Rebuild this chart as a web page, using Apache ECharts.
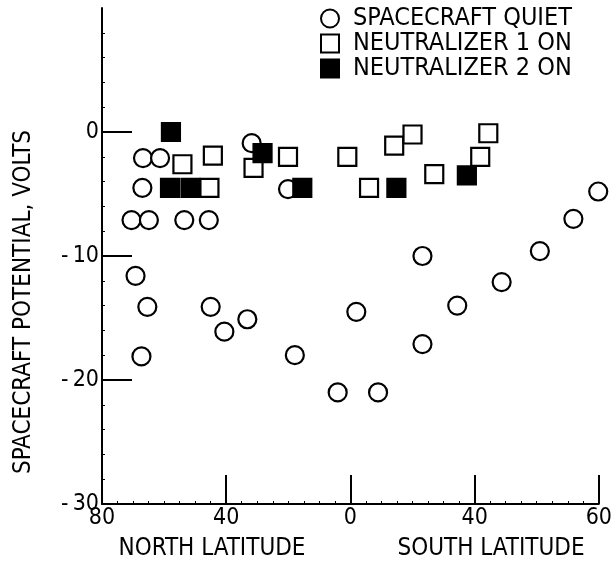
<!DOCTYPE html>
<html><head><meta charset="utf-8">
<script src="https://cdn.jsdelivr.net/npm/echarts@6/dist/echarts.min.js"></script>
<style>html,body{margin:0;padding:0;background:#fff}#c{width:615px;height:568px}</style>
</head><body><div id="c"></div>
<script>
// x values are axis positions: -80..0 = north latitude, 0..80 = south side (right end tick labelled 60 in the original)
const quietX = [-66.8,-61.3,-31.8,-67.0,-20.1,-70.5,-64.9,-53.5,-45.6,-69.2,-65.4,-45.0,-40.6,-33.2,-67.3,-17.9,-4.1,8.9,1.9,23.2,23.2,34.4,48.7,61.0,71.8,79.8];
const quietY = [-2.1,-2.1,-0.9,-4.5,-4.6,-7.1,-7.1,-7.1,-7.1,-11.6,-14.1,-14.1,-16.1,-15.1,-18.1,-18.0,-21.0,-21.0,-14.5,-10.0,-17.1,-14.0,-12.1,-9.6,-7.0,-4.8];
const neut1X = [-54.1,-44.3,-31.2,-20.1,-45.4,-1.0,14.1,20.0,44.4,41.8,27.0,6.0];
const neut1Y = [-2.6,-1.9,-2.9,-2.0,-4.5,-2.0,-1.1,-0.2,-0.1,-2.0,-3.4,-4.5];
const neut2X = [-57.8,-28.3,-58.1,-51.5,-15.5,14.8,37.5];
const neut2Y = [0,-1.7,-4.5,-4.5,-4.5,-4.5,-3.5];
const seriesNames = ['SPACECRAFT QUIET','NEUTRALIZER 1 ON','NEUTRALIZER 2 ON'];
const xTickValues = [-80,-40,0,40,80];
const xTickText = ['80','40','0','40','60'];
const yTickValues = [0,-10,-20,-30];
const yTickText = ['0','-\u200910','-\u200920','-\u200930'];
const yTitle = 'SPACECRAFT POTENTIAL, VOLTS';
const xTitles = ['NORTH LATITUDE','SOUTH LATITUDE'];

const FONT = "'Liberation Sans Narrow','DejaVu Sans Condensed',sans-serif";
const zip = (xs, ys) => xs.map((x, i) => [x, ys[i]]);
const chart = echarts.init(document.getElementById('c'), null, {renderer: 'canvas'});
chart.setOption({
  animation: false,
  backgroundColor: '#fff',
  grid: {left: 102, right: 11, top: 8, bottom: 64, containLabel: false},
  legend: {
    orient: 'vertical', left: 320, top: 6, padding: 0, itemGap: 0, itemWidth: 18, itemHeight: 18,
    data: seriesNames,
    textStyle: {fontFamily: FONT, fontSize: 25, lineHeight: 25, color: '#000', padding: [0,0,0,9]}
  },
  xAxis: {
    type: 'value', min: -80, max: 80, interval: 40,
    axisLine: {show: true, onZero: false, lineStyle: {color: '#000', width: 2}},
    axisTick: {show: true, inside: true, length: 29, lineStyle: {color: '#000', width: 2}},
    minorTick: {show: true, splitNumber: 8, length: 3, lineStyle: {color: '#000', width: 1}},
    axisLabel: {margin: 3, fontFamily: FONT, fontSize: 23, color: '#000',
      formatter: v => { const i = xTickValues.indexOf(v); return i >= 0 ? xTickText[i] : ''; }},
    splitLine: {show: false}
  },
  yAxis: {
    type: 'value', min: -30, max: 10, interval: 10,
    axisLine: {show: true, onZero: false, lineStyle: {color: '#000', width: 2}},
    axisTick: {show: true, inside: true, length: 30, customValues: [-20,-10,0], lineStyle: {color: '#000', width: 2}},
    minorTick: {show: true, splitNumber: 5, length: 3, lineStyle: {color: '#000', width: 1}},
    axisLabel: {margin: 3, fontFamily: FONT, fontSize: 23, color: '#000', customValues: yTickValues,
      formatter: v => { const i = yTickValues.indexOf(v); return i >= 0 ? yTickText[i] : ''; }},
    splitLine: {show: false}
  },
  graphic: [
    {type: 'text', x: 24, y: 302, rotation: Math.PI / 2,
      style: {text: yTitle, font: '24px ' + FONT, fill: '#000', align: 'center', verticalAlign: 'middle'}},
    {type: 'text', x: 212, y: 549,
      style: {text: xTitles[0], font: '24px ' + FONT, fill: '#000', align: 'center', verticalAlign: 'middle'}},
    {type: 'text', x: 491, y: 549,
      style: {text: xTitles[1], font: '24px ' + FONT, fill: '#000', align: 'center', verticalAlign: 'middle'}}
  ],
  series: [
    {name: seriesNames[0], type: 'scatter', symbol: 'circle', symbolSize: 18, data: zip(quietX, quietY),
      itemStyle: {color: '#fff', borderColor: '#000', borderWidth: 2.2, opacity: 1}},
    {name: seriesNames[1], type: 'scatter', symbol: 'rect', symbolSize: 18, data: zip(neut1X, neut1Y),
      itemStyle: {color: '#fff', borderColor: '#000', borderWidth: 2.2, opacity: 1}},
    {name: seriesNames[2], type: 'scatter', symbol: 'rect', symbolSize: 18, data: zip(neut2X, neut2Y),
      itemStyle: {color: '#000', borderColor: '#000', borderWidth: 2.2, opacity: 1}}
  ]
});
</script></body></html>
